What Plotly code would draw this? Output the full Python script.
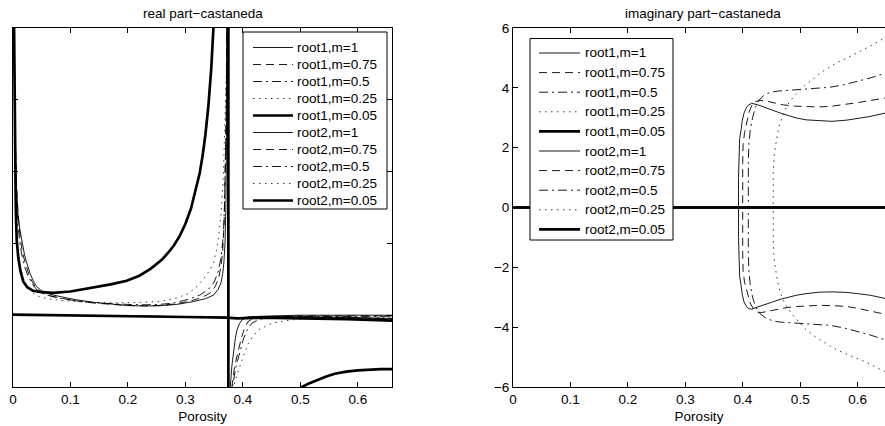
import plotly.graph_objects as go

W, H = 885, 426
MT, MB = 28, 39
PH = H - MT - MB

names = ["root1,m=1", "root1,m=0.75", "root1,m=0.5", "root1,m=0.25", "root1,m=0.05",
         "root2,m=1", "root2,m=0.75", "root2,m=0.5", "root2,m=0.25", "root2,m=0.05"]

x_ticks = [0, 0.1, 0.2, 0.3, 0.4, 0.5, 0.6]
y_ticks_im = [-6, -4, -2, 0, 2, 4, 6]
y_ticks_re = [-1, 0, 1, 2, 3, 4]

# ---------------- real part (left panel) ----------------
re_r1_m1_x = [0.0015, 0.0025, 0.004, 0.006, 0.009, 0.012, 0.016, 0.02, 0.024, 0.03, 0.036, 0.041, 0.05, 0.065,
              0.082, 0.11, 0.14, 0.17, 0.198, 0.23, 0.256, 0.285, 0.314, 0.335, 0.349, 0.357, 0.362, 0.365, 0.367,
              0.369, 0.3705, 0.3715, 0.372, 0.3725, 0.373, 0.3735, 0.3745, 0.376, 0.3782, 0.381, 0.384, 0.387,
              0.39, 0.394, 0.3986, 0.405, 0.415, 0.428, 0.45, 0.5, 0.55, 0.6, 0.66]
re_r1_m1_y = [4.1, 3.2, 2.4, 1.8, 1.4, 1.2, 1.0, 0.85, 0.73, 0.58, 0.47, 0.40, 0.34, 0.29, 0.26, 0.215, 0.18,
              0.155, 0.135, 0.128, 0.132, 0.15, 0.19, 0.23, 0.28, 0.36, 0.45, 0.58, 0.73, 1.0, 1.5, 2.3, 3.2,
              4.1, 8, 60, -60, -3, -0.99, -0.7, -0.48, -0.32, -0.2, -0.12, -0.065, -0.035, -0.02, -0.015,
              -0.01, 0.0, 0.0, 0.0, 0.0]

re_r1_m075_x = [0.002, 0.003, 0.0045, 0.0065, 0.009, 0.012, 0.015, 0.019, 0.023, 0.028, 0.034, 0.04, 0.05,
                0.065, 0.082, 0.11, 0.14, 0.17, 0.2, 0.23, 0.256, 0.285, 0.31, 0.33, 0.343, 0.352, 0.358,
                0.362, 0.365, 0.3675, 0.369, 0.3705, 0.3715, 0.372, 0.3728, 0.3735, 0.3745, 0.377, 0.381,
                0.386, 0.393, 0.398, 0.404, 0.41, 0.42, 0.44, 0.5, 0.6, 0.66]
re_r1_m075_y = [4.1, 3.2, 2.4, 1.8, 1.4, 1.15, 0.95, 0.8, 0.68, 0.56, 0.46, 0.38, 0.32, 0.27, 0.24, 0.2, 0.17,
                0.15, 0.135, 0.13, 0.137, 0.16, 0.2, 0.25, 0.31, 0.4, 0.52, 0.68, 0.9, 1.3, 1.8, 2.5, 3.3,
                4.1, 8, 60, -60, -3, -0.99, -0.7, -0.48, -0.3, -0.16, -0.08, -0.04, -0.02, -0.01, -0.01, -0.01]

re_r1_m05_x = [0.0018, 0.0028, 0.004, 0.006, 0.0085, 0.012, 0.016, 0.021, 0.027, 0.034, 0.042, 0.052, 0.068,
               0.085, 0.11, 0.14, 0.17, 0.2, 0.23, 0.256, 0.28, 0.305, 0.325, 0.34, 0.35, 0.357, 0.362, 0.366,
               0.368, 0.3695, 0.371, 0.372, 0.3725, 0.373, 0.3735, 0.3745, 0.3775, 0.382, 0.388, 0.395,
               0.401, 0.408, 0.416, 0.428, 0.45, 0.5, 0.6, 0.66]
re_r1_m05_y = [4.1, 3.1, 2.3, 1.7, 1.3, 1.0, 0.82, 0.66, 0.53, 0.43, 0.35, 0.3, 0.26, 0.23, 0.2, 0.175, 0.16,
               0.15, 0.145, 0.15, 0.17, 0.22, 0.28, 0.36, 0.46, 0.6, 0.8, 1.1, 1.5, 2.0, 2.8, 3.6, 4.1, 8, 60,
               -60, -3, -0.99, -0.72, -0.5, -0.33, -0.2, -0.11, -0.06, -0.03, -0.02, -0.015, -0.015]

re_r1_m025_x = [0.001, 0.002, 0.003, 0.0045, 0.0065, 0.009, 0.013, 0.018, 0.025, 0.033, 0.045, 0.06, 0.085,
                0.12, 0.169, 0.21, 0.256, 0.285, 0.305, 0.32, 0.333, 0.342, 0.349, 0.354, 0.358, 0.362, 0.366,
                0.369, 0.371, 0.3725, 0.373, 0.3735, 0.3745, 0.378, 0.384, 0.391, 0.398, 0.404, 0.41, 0.418,
                0.428, 0.44, 0.451, 0.468, 0.486, 0.526, 0.6, 0.66]
re_r1_m025_y = [4.1, 3.0, 2.2, 1.6, 1.2, 0.9, 0.68, 0.52, 0.4, 0.32, 0.26, 0.23, 0.205, 0.185, 0.172, 0.175,
                0.19, 0.24, 0.3, 0.4, 0.52, 0.62, 0.73, 0.9, 1.1, 1.4, 1.9, 2.6, 3.3, 4.1, 8, 60, -60, -3,
                -0.99, -0.8, -0.62, -0.5, -0.39, -0.29, -0.2, -0.15, -0.11, -0.085, -0.064, -0.04, -0.035,
                -0.035]

re_r1_m005_x = [0.002, 0.003, 0.0037, 0.005, 0.0066, 0.0094, 0.013, 0.018, 0.025, 0.035, 0.05, 0.07, 0.1,
                0.14, 0.17, 0.198, 0.22, 0.24, 0.26, 0.27, 0.28, 0.29, 0.30, 0.31, 0.32, 0.325, 0.33, 0.335,
                0.34, 0.345, 0.35, 0.355, 0.363, 0.37, 0.3745, 0.3752, 0.39, 0.42, 0.46, 0.49, 0.503, 0.515,
                0.53, 0.545, 0.56, 0.58, 0.6, 0.62, 0.64, 0.66]
re_r1_m005_y = [4.05, 3.2, 2.2, 1.5, 1.05, 0.8, 0.62, 0.47, 0.39, 0.34, 0.32, 0.31, 0.33, 0.385, 0.43, 0.48,
                0.55, 0.65, 0.78, 0.87, 0.97, 1.1, 1.27, 1.49, 1.79, 1.98, 2.22, 2.52, 2.91, 3.43, 4.17, 5.3,
                9, 25, 400, -400, -30, -8, -2.6, -1.3, -1.0, -0.95, -0.9, -0.855, -0.815, -0.785, -0.768,
                -0.758, -0.752, -0.75]

re_r2_x = [0, 0.1, 0.2, 0.3, 0.372, 0.39, 0.43, 0.5, 0.58, 0.66]
re_r2_m1_y = [0.006, 0.0, -0.01, -0.02, -0.03, -0.035, -0.02, -0.02, -0.03, -0.045]
re_r2_m075_y = [0.006, 0.0, -0.01, -0.02, -0.03, -0.037, -0.022, -0.022, -0.033, -0.05]
re_r2_m05_y = [0.007, 0.0, -0.011, -0.022, -0.032, -0.04, -0.025, -0.025, -0.036, -0.055]
re_r2_m025_y = [0.007, 0.0, -0.012, -0.023, -0.033, -0.042, -0.03, -0.03, -0.04, -0.06]
re_r2_m005_y = [0.008, 0.0, -0.012, -0.025, -0.035, -0.045, -0.035, -0.04, -0.055, -0.075]

# ---------------- imaginary part (right panel) ----------------
im_r1_m1_x = [0, 0.3925, 0.3925, 0.393, 0.3945, 0.397, 0.399, 0.402, 0.406, 0.41, 0.4155, 0.425, 0.436, 0.45,
              0.465, 0.48, 0.494, 0.51, 0.534, 0.555, 0.581, 0.6, 0.621, 0.66]
im_r1_m1_y = [0, 0, 1.0, 1.8, 2.3, 2.6, 2.9, 3.15, 3.33, 3.43, 3.48, 3.44, 3.36, 3.26, 3.16, 3.07, 2.99, 2.93,
              2.89, 2.88, 2.92, 2.97, 3.04, 3.21]
im_r2_m1_x = [0, 0.3925, 0.3925, 0.393, 0.3945, 0.397, 0.399, 0.402, 0.406, 0.41, 0.4155, 0.425, 0.436, 0.45,
              0.465, 0.48, 0.494, 0.51, 0.534, 0.555, 0.581, 0.6, 0.621, 0.66]
im_r2_m1_y = [0, 0, -1.0, -1.8, -2.3, -2.6, -2.9, -3.15, -3.3, -3.38, -3.4, -3.33, -3.27, -3.17, -3.07, -2.99,
              -2.93, -2.88, -2.83, -2.82, -2.84, -2.88, -2.93, -3.09]

im_r1_m075_x = [0, 0.3998, 0.3998, 0.4005, 0.403, 0.407, 0.411, 0.416, 0.422, 0.43, 0.444, 0.46, 0.4705, 0.49,
                0.505, 0.53, 0.552, 0.575, 0.598, 0.62, 0.66]
im_r1_m075_y = [0, 0, 1.5, 2.1, 2.5, 2.9, 3.2, 3.42, 3.54, 3.58, 3.55, 3.47, 3.43, 3.39, 3.37, 3.36, 3.38,
                3.43, 3.5, 3.57, 3.7]
im_r2_m075_x = [0, 0.3998, 0.3998, 0.4005, 0.403, 0.408, 0.413, 0.419, 0.426, 0.433, 0.445, 0.459, 0.475,
                0.494, 0.515, 0.534, 0.558, 0.581, 0.6, 0.621, 0.66]
im_r2_m075_y = [0, 0, -1.5, -2.1, -2.5, -2.9, -3.2, -3.4, -3.5, -3.51, -3.46, -3.4, -3.35, -3.31, -3.28, -3.27,
                -3.28, -3.31, -3.37, -3.46, -3.62]

im_r1_m05_x = [0, 0.4096, 0.4096, 0.4105, 0.413, 0.417, 0.422, 0.428, 0.436, 0.446, 0.46, 0.48, 0.505, 0.53,
               0.552, 0.575, 0.598, 0.62, 0.66]
im_r1_m05_y = [0, 0, 1.5, 2.1, 2.6, 3.0, 3.35, 3.58, 3.74, 3.84, 3.89, 3.92, 3.94, 3.97, 4.02, 4.1, 4.21,
               4.32, 4.56]
im_r2_m05_x = [0, 0.4096, 0.4096, 0.4105, 0.413, 0.417, 0.423, 0.43, 0.4416, 0.455, 0.465, 0.485, 0.505, 0.53,
               0.552, 0.575, 0.598, 0.62, 0.66]
im_r2_m05_y = [0, 0, -1.5, -2.1, -2.6, -3.0, -3.35, -3.55, -3.72, -3.8, -3.83, -3.85, -3.87, -3.9, -3.94,
               -4.02, -4.13, -4.25, -4.5]

im_r1_m025_x = [0, 0.453, 0.453, 0.455, 0.459, 0.463, 0.4675, 0.4705, 0.476, 0.485, 0.494, 0.508, 0.523,
                0.537, 0.552, 0.566, 0.581, 0.595, 0.61, 0.628, 0.66]
im_r1_m025_y = [0, 0, 1.2, 1.8, 2.3, 2.7, 2.95, 3.1, 3.38, 3.62, 3.82, 4.08, 4.32, 4.52, 4.71, 4.86, 4.99,
                5.13, 5.27, 5.46, 5.82]
im_r2_m025_x = [0, 0.453, 0.453, 0.455, 0.459, 0.463, 0.4675, 0.4705, 0.476, 0.485, 0.494, 0.508, 0.523,
                0.537, 0.552, 0.566, 0.581, 0.595, 0.61, 0.628, 0.66]
im_r2_m025_y = [0, 0, -1.2, -1.8, -2.3, -2.7, -2.95, -3.1, -3.3, -3.55, -3.75, -4.05, -4.28, -4.46, -4.63,
                -4.78, -4.91, -5.02, -5.13, -5.3, -5.6]

im_r1_m005_x = [0, 0.66]
im_r1_m005_y = [0, 0]
im_r2_m005_x = [0, 0.66]
im_r2_m005_y = [0, 0]

# ---------------- styles ----------------
THIN, THICK = 0.9, 2.7
DASH = "8px,5px"
DASHDOT = "9px,4px,2px,4px"
DOT = "1.5px,4.5px"
line_styles = [
    dict(color="black", width=THIN, dash="solid"),
    dict(color="black", width=THIN, dash=DASH),
    dict(color="black", width=THIN, dash=DASHDOT),
    dict(color="#222222", width=THIN, dash=DOT),
    dict(color="black", width=THICK, dash="solid"),
]
styles = line_styles + line_styles

re_series = [(re_r1_m1_x, re_r1_m1_y), (re_r1_m075_x, re_r1_m075_y), (re_r1_m05_x, re_r1_m05_y),
             (re_r1_m025_x, re_r1_m025_y), (re_r1_m005_x, re_r1_m005_y),
             (re_r2_x, re_r2_m1_y), (re_r2_x, re_r2_m075_y), (re_r2_x, re_r2_m05_y),
             (re_r2_x, re_r2_m025_y), (re_r2_x, re_r2_m005_y)]
im_series = [(im_r1_m1_x, im_r1_m1_y), (im_r1_m075_x, im_r1_m075_y), (im_r1_m05_x, im_r1_m05_y),
             (im_r1_m025_x, im_r1_m025_y), (im_r1_m005_x, im_r1_m005_y),
             (im_r2_m1_x, im_r2_m1_y), (im_r2_m075_x, im_r2_m075_y), (im_r2_m05_x, im_r2_m05_y),
             (im_r2_m025_x, im_r2_m025_y), (im_r2_m005_x, im_r2_m005_y)]

fig = go.Figure()
for (xs, ys), nm, st in zip(re_series, names, styles):
    fig.add_trace(go.Scatter(x=xs, y=ys, mode="lines", name=nm, line=st, showlegend=False,
                             xaxis="x", yaxis="y"))
for (xs, ys), nm, st in zip(im_series, names, styles):
    fig.add_trace(go.Scatter(x=xs, y=ys, mode="lines", name=nm, line=st, showlegend=False,
                             xaxis="x2", yaxis="y2"))

FONT = dict(family="Liberation Sans, Arial, Helvetica, sans-serif", size=13.5, color="black")


def px_x(p):
    return p / W


def px_y(p):
    return (H - MB - p) / PH


shapes = []
annotations = []


def add_legend(bx0, bx1, by0, by1, row0, step, lx0, lx1, tx):
    shapes.append(dict(type="rect", xref="paper", yref="paper", layer="above",
                       x0=px_x(bx0), x1=px_x(bx1), y0=px_y(by1), y1=px_y(by0),
                       line=dict(color="black", width=1), fillcolor="white"))
    for i, (nm, st) in enumerate(zip(names, styles)):
        yy = px_y(row0 + step * i)
        shapes.append(dict(type="line", xref="paper", yref="paper", layer="above",
                           x0=px_x(lx0), x1=px_x(lx1), y0=yy, y1=yy,
                           line=dict(color=st["color"], width=st["width"], dash=st["dash"])))
        annotations.append(dict(text=nm, xref="paper", yref="paper", x=px_x(tx), y=yy,
                                xanchor="left", yanchor="middle", showarrow=False, font=FONT))


add_legend(243, 387, 32, 209, 47.5, 17.0, 253, 293, 295)
add_legend(530, 673, 38.5, 240, 53, 19.6, 539, 580, 583)

annotations.append(dict(text="real part\u2212castaneda", xref="paper", yref="paper",
                        x=px_x(202.6), y=px_y(13.5), xanchor="center", yanchor="middle",
                        showarrow=False, font=FONT))
annotations.append(dict(text="imaginary part\u2212castaneda", xref="paper", yref="paper",
                        x=px_x(702.5), y=px_y(13.5), xanchor="center", yanchor="middle",
                        showarrow=False, font=FONT))

axis_common = dict(showgrid=False, zeroline=False, showline=True, linecolor="black", linewidth=1,
                   ticks="inside", ticklen=5, tickwidth=1, tickcolor="black", tickfont=FONT,
                   automargin=False)

fig.update_layout(
    width=W, height=H,
    margin=dict(l=0, r=0, t=MT, b=MB),
    paper_bgcolor="white", plot_bgcolor="white",
    font=FONT,
    showlegend=False,
    shapes=shapes,
    annotations=annotations,
    xaxis=dict(domain=[px_x(12.9), px_x(392.3)], range=[0, 0.66], anchor="y",
               tickvals=x_ticks, ticktext=[("%g" % v) for v in x_ticks], mirror="ticks",
               title=dict(text="Porosity", font=FONT, standoff=5), **axis_common),
    yaxis=dict(domain=[0, 1], range=[-1, 4], anchor="x", tickvals=y_ticks_re,
               showticklabels=False, mirror="ticks", **axis_common),
    xaxis2=dict(domain=[px_x(513), 1], range=[0, 0.6475], anchor="y2",
                tickvals=x_ticks, ticktext=[("%g" % v) for v in x_ticks], mirror="ticks",
                title=dict(text="Porosity", font=FONT, standoff=5), **axis_common),
    yaxis2=dict(domain=[0, 1], range=[-6, 6], anchor="x2", tickvals=y_ticks_im,
                ticktext=[("%g" % v).replace("-", "\u2212") for v in y_ticks_im],
                mirror=False, **axis_common),
)

fig.write_html("out.html", config={"displayModeBar": False},
               post_script="document.body.style.margin='0';document.body.style.overflow='hidden';")
